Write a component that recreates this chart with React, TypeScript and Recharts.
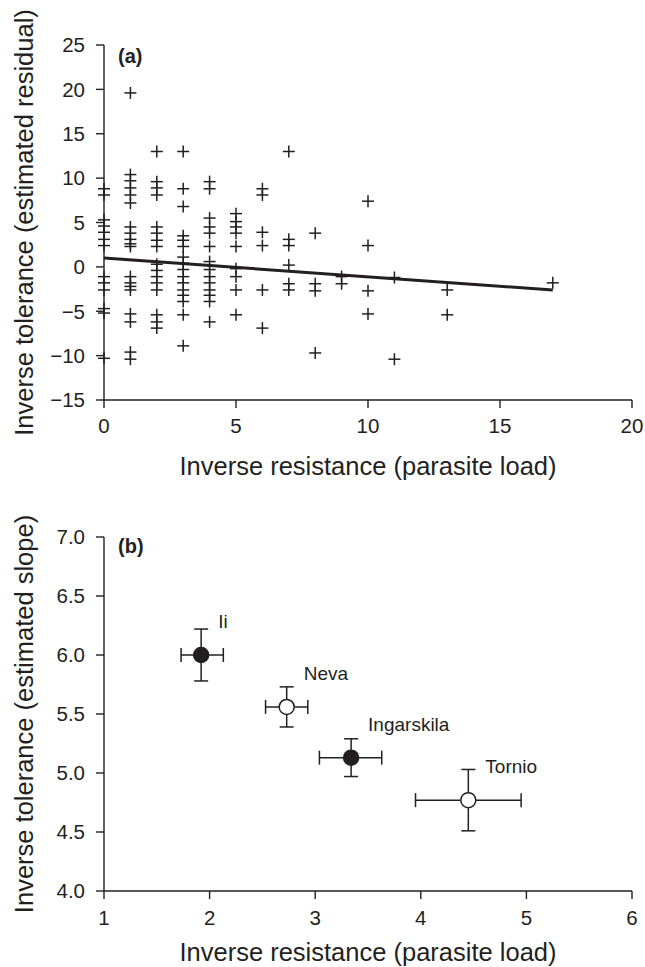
import React from 'react';
import { ScatterChart, Scatter, XAxis, YAxis, ErrorBar, Label } from 'recharts';

// ---------- Panel (a) data ----------
const parasiteLoads = [0, 1, 2, 3, 4, 5, 6, 7, 8, 9, 10, 11, 13, 17];
const residualsAtLoad = [
  [8.8, 8.1, 5.3, 4.6, 3.9, 3.1, 2.4, -1.1, -1.8, -2.6, -4.7, -5.2, -10.3],
  [19.6, 10.4, 9.7, 8.9, 8.1, 7.2, 4.5, 3.8, 3.1, 2.6, 2.3, -1.1, -1.8, -2.2, -2.6, -5.3, -6.2, -9.6, -10.4],
  [13.0, 9.6, 8.9, 8.1, 4.5, 3.8, 3.0, 2.3, 0.3, -0.4, -1.1, -1.8, -2.6, -5.4, -6.2, -6.9],
  [13.0, 8.8, 6.8, 3.5, 3.0, 2.3, 1.1, 0.4, -0.3, -1.1, -1.8, -2.6, -3.2, -3.9, -5.4, -8.9],
  [9.6, 8.8, 5.5, 4.5, 3.8, 2.3, 0.6, -0.3, -1.1, -1.8, -2.6, -3.2, -3.9, -6.2],
  [6.0, 5.1, 4.5, 3.8, 2.3, -0.2, -1.1, -2.6, -5.4],
  [8.8, 8.1, 3.9, 2.4, -2.6, -6.9],
  [13.0, 3.1, 2.4, 0.2, -1.9, -2.6],
  [3.8, -1.9, -2.7, -9.7],
  [-1.1, -1.9],
  [7.4, 2.4, -2.7, -5.3],
  [-1.2, -10.4],
  [-2.6, -5.4],
  [-1.8],
];
const regressionX = [0, 17];
const regressionY = [1.0, -2.6];
const aXTicks = [0, 5, 10, 15, 20];
const aYTicks = [-15, -10, -5, 0, 5, 10, 15, 20, 25];

// ---------- Panel (b) data ----------
const populations = ['Ii', 'Neva', 'Ingarskila', 'Tornio'];
const resistance = [1.92, 2.73, 3.34, 4.45];
const resistanceLow = [1.73, 2.53, 3.04, 3.95];
const resistanceHigh = [2.13, 2.93, 3.63, 4.95];
const tolerance = [6.0, 5.56, 5.13, 4.77];
const toleranceLow = [5.78, 5.39, 4.97, 4.51];
const toleranceHigh = [6.22, 5.73, 5.29, 5.03];
const filledMarker = [true, false, true, false];
const bXTicks = [1, 2, 3, 4, 5, 6];
const bYTicks = [4.0, 4.5, 5.0, 5.5, 6.0, 6.5, 7.0];

// ---------- tables built from the arrays ----------
const scatterA = parasiteLoads.flatMap((x, i) => residualsAtLoad[i].map((y) => ({ x, y })));
const lineA = regressionX.map((x, i) => ({ x, y: regressionY[i] }));
const pointsB = populations.map((name, i) => ({
  name,
  x: resistance[i],
  y: tolerance[i],
  xErr: [resistance[i] - resistanceLow[i], resistanceHigh[i] - resistance[i]],
  yErr: [tolerance[i] - toleranceLow[i], toleranceHigh[i] - tolerance[i]],
  filled: filledMarker[i],
}));
const filledB = pointsB.filter((p) => p.filled);
const openB = pointsB.filter((p) => !p.filled);

const INK = '#231f20';
const FONT = '"Liberation Sans", Arial, Helvetica, sans-serif';
const TICK_FONT = 20.5;
const TITLE_FONT = 25.5;

const minus = (v: number, digits = 0) => {
  const s = Math.abs(v).toFixed(digits);
  return v < 0 ? '\u2212' + s : s;
};

const PlusShape = (props: any) => {
  const { cx, cy } = props;
  if (cx == null || cy == null) return <g />;
  const h = 6;
  return (
    <g>
      <line x1={cx - h} y1={cy} x2={cx + h} y2={cy} stroke={INK} strokeWidth={1.5} />
      <line x1={cx} y1={cy - h} x2={cx} y2={cy + h} stroke={INK} strokeWidth={1.5} />
    </g>
  );
};

const EmptyShape = () => <g />;

const CircleShape = (props: any) => {
  const { cx, cy, payload } = props;
  if (cx == null || cy == null) return <g />;
  return (
    <g>
      <circle cx={cx} cy={cy} r={7.5} fill={payload.filled ? INK : '#ffffff'} stroke={INK} strokeWidth={1.5} />
      <text x={cx + 17} y={cy - 27} fill={INK} fontSize={19} fontFamily={FONT}>
        {payload.name}
      </text>
    </g>
  );
};

const yTitle = (text: string, baselineX: number) => (props: any) => {
  const vb = props.viewBox || {};
  const x = baselineX;
  const y = (vb.y ?? 0) + (vb.height ?? 0) / 2;
  return (
    <text
      x={x}
      y={y}
      transform={`rotate(-90, ${x}, ${y})`}
      textAnchor="middle"
      fill={INK}
      fontSize={TITLE_FONT}
      fontFamily={FONT}
    >
      {text}
    </text>
  );
};

const xTitle = (text: string, baselineOffset: number) => (props: any) => {
  const vb = props.viewBox || {};
  const x = (vb.x ?? 0) + (vb.width ?? 0) / 2;
  const y = (vb.y ?? 0) + baselineOffset;
  return (
    <text x={x} y={y} textAnchor="middle" fill={INK} fontSize={TITLE_FONT} fontFamily={FONT}>
      {text}
    </text>
  );
};

const axisCommon = {
  axisLine: { stroke: INK, strokeWidth: 1.4 },
  tickLine: { stroke: INK, strokeWidth: 1.4 },
  tickSize: 8,
  tick: { fill: INK, fontSize: TICK_FONT, fontFamily: FONT },
};

const panelLabelStyle: React.CSSProperties = {
  position: 'absolute',
  left: 118,
  fontSize: 20,
  fontWeight: 'bold',
  color: INK,
  lineHeight: 1,
  zIndex: 2,
};

export default function App() {
  return (
    <div style={{ position: 'absolute', left: 0, top: 0, width: 645, height: 967, background: '#fff', fontFamily: FONT }}>
      <div style={{ ...panelLabelStyle, top: 46 }}>(a)</div>
      <div style={{ ...panelLabelStyle, top: 536 }}>(b)</div>
      <div style={{ position: 'absolute', left: 0, top: 0 }}>
        <ScatterChart width={645} height={480} margin={{ top: 45, right: 13, bottom: 0, left: 0 }}>
          <XAxis
            type="number"
            dataKey="x"
            domain={[0, 20]}
            ticks={aXTicks}
            height={80}
            tickMargin={10}
            {...axisCommon}
          >
            <Label content={xTitle('Inverse resistance (parasite load)', 75)} />
          </XAxis>
          <YAxis
            type="number"
            dataKey="y"
            domain={[-15, 25]}
            ticks={aYTicks}
            width={104}
            tickMargin={11}
            tickFormatter={(v: number) => minus(v)}
            {...axisCommon}
          >
            <Label content={yTitle('Inverse tolerance (estimated residual)', 33)} />
          </YAxis>
          <Scatter data={scatterA} shape={PlusShape} isAnimationActive={false} />
          <Scatter
            data={lineA}
            shape={EmptyShape}
            line={{ stroke: INK, strokeWidth: 3 }}
            stroke={INK}
            lineType="joint"
            isAnimationActive={false}
          />
        </ScatterChart>
      </div>
      <div style={{ position: 'absolute', left: 0, top: 480 }}>
        <ScatterChart width={645} height={487} margin={{ top: 57, right: 13, bottom: 0, left: 0 }}>
          <XAxis
            type="number"
            dataKey="x"
            domain={[1, 6]}
            ticks={bXTicks}
            height={76}
            tickMargin={11}
            {...axisCommon}
          >
            <Label content={xTitle('Inverse resistance (parasite load)', 70)} />
          </XAxis>
          <YAxis
            type="number"
            dataKey="y"
            domain={[4, 7]}
            ticks={bYTicks}
            width={104}
            tickMargin={11}
            tickFormatter={(v: number) => minus(v, 1)}
            {...axisCommon}
          >
            <Label content={yTitle('Inverse tolerance (estimated slope)', 33)} />
          </YAxis>
          <Scatter data={filledB} shape={CircleShape} isAnimationActive={false}>
            <ErrorBar dataKey="xErr" direction="x" width={7} stroke={INK} strokeWidth={1.5} />
            <ErrorBar dataKey="yErr" direction="y" width={7} stroke={INK} strokeWidth={1.5} />
          </Scatter>
          <Scatter data={openB} shape={CircleShape} isAnimationActive={false}>
            <ErrorBar dataKey="xErr" direction="x" width={7} stroke={INK} strokeWidth={1.5} />
            <ErrorBar dataKey="yErr" direction="y" width={7} stroke={INK} strokeWidth={1.5} />
          </Scatter>
        </ScatterChart>
      </div>
    </div>
  );
}
